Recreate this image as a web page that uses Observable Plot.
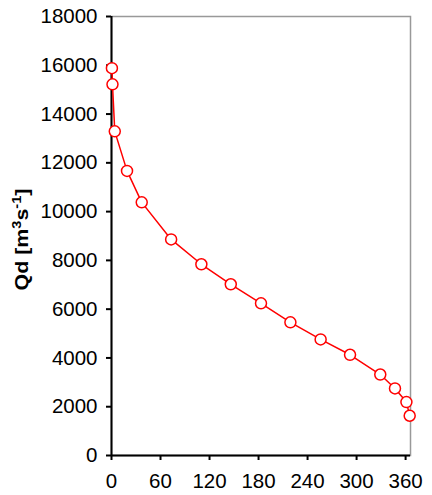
<!DOCTYPE html>
<html>
<head>
<meta charset="utf-8">
<script src="https://cdn.jsdelivr.net/npm/d3@7"></script>
<script src="https://cdn.jsdelivr.net/npm/@observablehq/plot@0.6"></script>
<style>
  html, body { margin: 0; padding: 0; background: #fff; }
  #chart svg { display: block; }
</style>
</head>
<body>
<div id="chart"></div>
<script>
const days = [0.5, 1.2, 4, 19, 37, 73, 110, 146, 183, 219, 256, 292, 329, 347, 361, 365];
const discharge = [15880, 15220, 13290, 11670, 10380, 8860, 7840, 7020, 6240, 5460, 4760, 4130, 3320, 2750, 2190, 1630];
const xTicks = [0, 60, 120, 180, 240, 300, 360];
const yTicks = [0, 2000, 4000, 6000, 8000, 10000, 12000, 14000, 16000, 18000];
const yLabel = "Qd [m³s⁻¹]";
// label pieces: [text, superscript?]
const yLabelParts = [["Qd [m", false], ["3", true], ["s", false], ["-1", true], ["]", false]];

const data = days.map((d, i) => ({day: d, q: discharge[i]}));

const chart = Plot.plot({
  width: 432,
  height: 495,
  marginLeft: 111,
  marginRight: 22,
  marginTop: 16,
  marginBottom: 40,
  style: {fontFamily: "Liberation Sans, Arial, sans-serif", fontSize: "20px", color: "#000", background: "#fff"},
  x: {domain: [0, 366], ticks: xTicks},
  y: {domain: [0, 18000], ticks: yTicks},
  marks: [
    Plot.frame({stroke: "#999", strokeWidth: 1.5}),
    Plot.axisX({ticks: xTicks, tickSize: 5, tickPadding: 13, label: null, tickFormat: d => String(d), fontSize: 20.5, strokeWidth: 2}),
    Plot.axisY({ticks: yTicks, tickSize: 5, tickPadding: 9, label: null, tickFormat: d => String(d), fontSize: 20.5, strokeWidth: 2}),
    Plot.ruleX([0], {stroke: "#000", strokeWidth: 2}),
    Plot.ruleY([0], {stroke: "#000", strokeWidth: 2}),
    Plot.line(data, {x: "day", y: "q", stroke: "#ff0000", strokeWidth: 1.5}),
    Plot.dot(data, {x: "day", y: "q", r: 5.5, stroke: "#ff0000", fill: "#fff", strokeWidth: 1.5}),
    Plot.text([yLabel], {frameAnchor: "left", textAnchor: "middle", text: d => d, rotate: -90, dx: -90, dy: 3.5, fontWeight: "bold", fontSize: 19, fill: "#000", className: "ylab"})
  ]
});

// rebuild the axis title with true superscripts
const t = chart.querySelector("g.ylab text");
if (t) {
  const ns = "http://www.w3.org/2000/svg";
  t.textContent = "";
  let raised = false;
  for (const [s, sup] of yLabelParts) {
    const ts = document.createElementNS(ns, "tspan");
    ts.textContent = s;
    if (sup && !raised) { ts.setAttribute("dy", "-7"); raised = true; }
    else if (!sup && raised) { ts.setAttribute("dy", "7"); raised = false; }
    if (sup) ts.setAttribute("font-size", "13");
    t.appendChild(ts);
  }
  t.setAttribute("textLength", "102");
  t.setAttribute("lengthAdjust", "spacingAndGlyphs");
}
document.getElementById("chart").appendChild(chart);
</script>
</body>
</html>
